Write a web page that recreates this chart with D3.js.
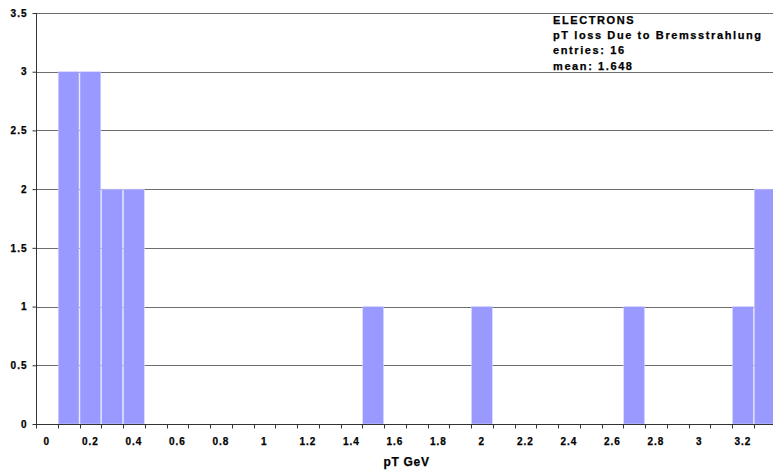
<!DOCTYPE html>
<html>
<head>
<meta charset="utf-8">
<script src="https://cdn.jsdelivr.net/npm/d3@7"></script>
<style>
  html, body { margin: 0; padding: 0; background: #fff; }
  svg { display: block; font-family: "Liberation Sans", Arial, sans-serif; font-weight: bold; }
  svg text { stroke: #000; stroke-width: 0.25px; }
</style>
</head>
<body>
<svg id="chart" width="773" height="470"></svg>
<script>
// Histogram bins (pT GeV, step 0.1) and counts
const categories = d3.range(34).map(i => +(i / 10).toFixed(1));
const counts = [0,3,3,2,2,0,0,0,0,0, 0,0,0,0,0,1,0,0,0,0, 1,0,0,0,0,0,0,1,0,0, 0,0,1,2];
const yTicks = [0, 0.5, 1, 1.5, 2, 2.5, 3, 3.5];
const yTickLabels = ["0", "0.5", "1", "1.5", "2", "2.5", "3", "3.5"];
const xLabelEvery = 2;
const legendLines = ["ELECTRONS", "pT loss Due to Bremsstrahlung", "entries: 16", "mean: 1.648"];
const xTitle = "pT GeV";

const svg = d3.select("#chart");
const plotL = 36, plotR = 775.5, plotT = 13, plotB = 424;

const x = d3.scaleBand().domain(categories).range([plotL, plotR]).padding(0);
const y = d3.scaleLinear().domain([0, 3.5]).range([plotB, plotT]);

// gridlines
svg.append("g").selectAll("line").data(yTicks.filter(d => d > 0)).join("line")
  .attr("x1", plotL).attr("x2", 773)
  .attr("y1", d => Math.round(y(d)) + 0.5).attr("y2", d => Math.round(y(d)) + 0.5)
  .attr("stroke", "#6e6e6e").attr("stroke-width", 1.2);

// bars
svg.append("g").selectAll("rect").data(categories.map((c, i) => ({c, v: counts[i]})).filter(d => d.v > 0))
  .join("rect")
  .attr("x", d => x(d.c) + 0.5)
  .attr("width", x.bandwidth() - 1)
  .attr("y", d => y(d.v))
  .attr("height", d => y(0) - y(d.v))
  .attr("fill", "#9999ff")
  .attr("stroke", "#d6d6ff").attr("stroke-width", 0.6);

// y axis
const yAxis = d3.axisLeft(y).tickValues(yTicks).tickFormat((d, i) => yTickLabels[i]).tickSize(4).tickPadding(5);
const gy = svg.append("g").attr("transform", `translate(${plotL + 0.5},0)`).call(yAxis);
gy.select(".domain").attr("stroke", "#333").attr("d", `M0,${plotT}V${plotB}`);
gy.selectAll(".tick line").attr("stroke", "#333");
gy.selectAll("text").attr("font-size", 10).attr("font-weight", "bold").attr("fill", "#000")
  .attr("letter-spacing", "1px").attr("font-family", "Liberation Sans, Arial, sans-serif");

// x axis
const xAxis = d3.axisBottom(x).tickSize(0).tickPadding(13)
  .tickFormat((d, i) => i % xLabelEvery === 0 ? String(d) : "");
const gx = svg.append("g").attr("transform", `translate(0,${plotB + 0.5})`).call(xAxis);
gx.select(".domain").attr("stroke", "#333").attr("d", `M${plotL},0H773`);
gx.selectAll("text").attr("font-size", 10).attr("font-weight", "bold").attr("fill", "#000")
  .attr("letter-spacing", "1px").attr("font-family", "Liberation Sans, Arial, sans-serif");
// boundary ticks
const bounds = categories.map(c => x(c));
gx.append("g").selectAll("line").data(bounds).join("line")
  .attr("x1", d => Math.round(d) + 0.5).attr("x2", d => Math.round(d) + 0.5)
  .attr("y1", 0).attr("y2", 4).attr("stroke", "#333");

// x title
svg.append("text").attr("x", (plotL + 773) / 2 + 2).attr("y", 466)
  .attr("text-anchor", "middle").attr("font-size", 12).attr("letter-spacing", "0.7px")
  .text(xTitle);

// legend text
svg.append("g").selectAll("text").data(legendLines).join("text")
  .attr("x", 553).attr("y", (d, i) => 24 + i * 15.2)
  .attr("font-size", 11).attr("letter-spacing", "1.6px")
  .text(d => d);
</script>
</body>
</html>
